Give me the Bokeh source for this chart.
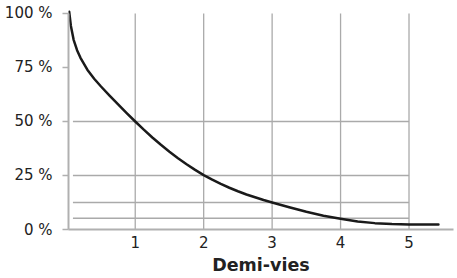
from bokeh.plotting import figure
from bokeh.models import Range1d, FixedTicker
from bokeh.embed import file_html
from bokeh.resources import INLINE

# Data (decay curve, % remaining vs half-lives)
curve_x = [0.035, 0.06, 0.1, 0.15, 0.2, 0.3, 0.4, 0.5, 0.625, 0.75, 0.875,
           1.0, 1.125, 1.25, 1.375, 1.5, 1.625, 1.75, 1.875,
           2.0, 2.125, 2.25, 2.375, 2.5, 2.625, 2.75, 2.875,
           3.0, 3.25, 3.5, 3.75, 4.0, 4.25, 4.5, 4.75, 5.0, 5.25, 5.43]
curve_y = [100.8, 94.2, 87.8, 83.0, 79.5, 74.0, 69.8, 66.2, 62.0, 57.9, 53.9,
           50.0, 46.2, 42.6, 39.2, 36.0, 33.0, 30.2, 27.6,
           25.2, 23.05, 21.1, 19.33, 17.7, 16.2, 14.9, 13.65,
           12.5, 10.3, 8.2, 6.4, 5.0, 3.7, 2.95, 2.55, 2.35, 2.3, 2.3]
x_ticks = [1, 2, 3, 4, 5]
y_ticks = [0, 25, 50, 75, 100]
y_tick_labels = ["0 %", "25 %", "50 %", "75 %", "100 %"]
h_lines = [50, 25, 12.5, 5.2]
v_lines = [1, 2, 3, 4, 5]

GRAY = "#aaaaaa"
FONT = "DejaVu Sans"
TXT = "#222222"

p = figure(width=457, height=278, output_backend="svg", toolbar_location=None,
           x_range=Range1d(0.025, 5.65), y_range=Range1d(0, 102.3),
           min_border_left=68, min_border_right=4, min_border_top=8, min_border_bottom=49)
p.outline_line_color = None
p.xgrid.visible = False
p.ygrid.visible = False

# grid segments
p.segment(x0=v_lines, y0=[0] * len(v_lines), x1=v_lines, y1=[100] * len(v_lines),
          line_color=GRAY, line_width=1.3)
p.segment(x0=[0.09] * len(h_lines), y0=h_lines, x1=[5] * len(h_lines), y1=h_lines,
          line_color=GRAY, line_width=1.3)

# curve
p.line(curve_x, curve_y, line_color="#1a1a1a", line_width=2.5, line_join="round", line_cap="round")

# x axis
xa = p.xaxis[0]
xa.ticker = FixedTicker(ticks=x_ticks)
xa.major_tick_out = 0
xa.major_tick_in = 0
xa.minor_tick_out = 0
xa.minor_tick_in = 0
xa.axis_line_color = "#b0b0b0"
xa.axis_line_width = 2
xa.major_label_text_font = FONT
xa.major_label_text_font_size = "15px"
xa.major_label_text_color = TXT
xa.major_label_standoff = 6
xa.axis_label = "Demi-vies"
xa.axis_label_text_font = FONT
xa.axis_label_text_font_style = "bold"
xa.axis_label_text_font_size = "17.5px"
xa.axis_label_text_color = TXT
xa.axis_label_standoff = 4

# y axis
ya = p.yaxis[0]
ya.ticker = FixedTicker(ticks=y_ticks)
ya.major_label_overrides = {t: l for t, l in zip(y_ticks, y_tick_labels)}
ya.bounds = (0, 100)
ya.major_tick_out = 6
ya.major_tick_in = 0
ya.minor_tick_out = 0
ya.minor_tick_in = 0
ya.major_tick_line_color = "#b0b0b0"
ya.major_tick_line_width = 1.5
ya.axis_line_color = "#b0b0b0"
ya.axis_line_width = 2
ya.major_label_text_font = FONT
ya.major_label_text_font_size = "15px"
ya.major_label_text_color = TXT
ya.major_label_standoff = 10

open("out.html", "w").write(file_html(p, INLINE))
